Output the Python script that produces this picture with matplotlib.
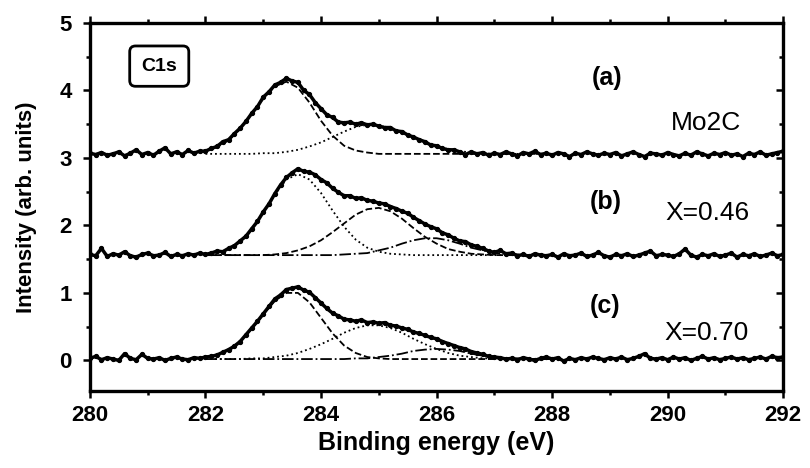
import numpy as np
import matplotlib
matplotlib.use('Agg')
import matplotlib.pyplot as plt
from matplotlib.ticker import MultipleLocator

plt.rcParams['font.family'] = ['Liberation Sans', 'DejaVu Sans']

# measured spectra, 0.1 eV steps from 280 to 292 eV
energy = np.round(np.arange(280.0, 292.001, 0.1), 1)

spec_a = [3.07, 3.05, 3.08, 3.04, 3.06, 3.09, 3.03, 3.07, 3.12, 3.05,
          3.08, 3.04, 3.10, 3.15, 3.06, 3.09, 3.05, 3.11, 3.07, 3.10,
          3.10, 3.14, 3.17, 3.24, 3.27, 3.36, 3.44, 3.54, 3.66, 3.76,
          3.90, 3.98, 4.08, 4.12, 4.18, 4.14, 4.12, 4.00, 3.94, 3.82,
          3.73, 3.64, 3.60, 3.53, 3.52, 3.53, 3.50, 3.52, 3.49, 3.50,
          3.47, 3.45, 3.45, 3.40, 3.39, 3.34, 3.31, 3.27, 3.24, 3.19,
          3.18, 3.14, 3.12, 3.12, 3.09, 3.05, 3.09, 3.06, 3.08, 3.04,
          3.07, 3.05, 3.09, 3.06, 3.03, 3.08, 3.06, 3.10, 3.05, 3.07,
          3.04, 3.08, 3.06, 3.02, 3.07, 3.05, 3.09, 3.06, 3.04, 3.07,
          3.05, 3.08, 3.03, 3.06, 3.09, 3.05, 3.02, 3.07, 3.06, 3.04,
          3.08, 3.05, 3.03, 3.07, 3.04, 3.09, 3.06, 3.03, 3.07, 3.05,
          3.08, 3.04, 3.06, 3.02, 3.07, 3.05, 3.09, 3.04, 3.06, 3.08,
          3.10]

spec_b = [1.57, 1.55, 1.66, 1.54, 1.58, 1.56, 1.61, 1.55, 1.53, 1.57,
          1.59, 1.55, 1.56, 1.60, 1.54, 1.57, 1.55, 1.58, 1.56, 1.59,
          1.57, 1.59, 1.62, 1.61, 1.66, 1.70, 1.77, 1.84, 1.95, 2.06,
          2.20, 2.32, 2.47, 2.60, 2.71, 2.78, 2.84, 2.80, 2.79, 2.75,
          2.68, 2.63, 2.55, 2.49, 2.44, 2.44, 2.40, 2.41, 2.37, 2.36,
          2.33, 2.32, 2.28, 2.25, 2.21, 2.18, 2.12, 2.07, 2.02, 1.98,
          1.95, 1.89, 1.86, 1.81, 1.77, 1.76, 1.71, 1.69, 1.66, 1.62,
          1.60, 1.63, 1.58, 1.59, 1.55, 1.57, 1.54, 1.58, 1.56, 1.55,
          1.57, 1.53, 1.58, 1.55, 1.56, 1.59, 1.54, 1.56, 1.60, 1.55,
          1.53, 1.57, 1.55, 1.58, 1.54, 1.56, 1.59, 1.62, 1.55, 1.57,
          1.56, 1.54, 1.58, 1.65, 1.56, 1.53, 1.57, 1.55, 1.58, 1.54,
          1.56, 1.59, 1.53, 1.57, 1.55, 1.58, 1.54, 1.56, 1.59, 1.55,
          1.57]

spec_c = [0.03, 0.06, 0.01, 0.04, 0.02, 0.00, 0.10, 0.03, 0.01, 0.09,
          0.03, 0.02, 0.04, 0.00, 0.03, 0.05, 0.02, 0.01, 0.04, 0.03,
          0.05, 0.06, 0.08, 0.12, 0.16, 0.21, 0.28, 0.38, 0.48, 0.58,
          0.69, 0.80, 0.91, 0.97, 1.05, 1.07, 1.09, 1.04, 1.01, 0.93,
          0.85, 0.77, 0.70, 0.66, 0.61, 0.60, 0.58, 0.60, 0.56, 0.57,
          0.55, 0.56, 0.52, 0.51, 0.48, 0.46, 0.42, 0.40, 0.37, 0.34,
          0.32, 0.28, 0.25, 0.22, 0.19, 0.17, 0.13, 0.11, 0.09, 0.06,
          0.05, 0.04, 0.02, 0.03, 0.01, 0.04, 0.02, 0.00, 0.03, 0.05,
          0.02, 0.04, -0.01, 0.03, 0.01, 0.04, 0.02, 0.05, 0.03, 0.01,
          0.04, 0.02, 0.05, 0.01, 0.03, 0.06, 0.10, 0.03, 0.02, 0.04,
          0.01, 0.05, 0.02, 0.04, 0.00, 0.03, 0.06, 0.02, 0.04, 0.01,
          0.03, 0.05, 0.02, 0.04, 0.01, 0.03, 0.05, 0.02, 0.06, 0.04,
          0.05]

# fitted components (height above each baseline), 0.2 eV steps 282-288 eV
fit_energy = np.round(np.arange(282.0, 288.001, 0.2), 1)
base_a, base_b, base_c = 3.06, 1.56, 0.02

a_peak1 = [0.04, 0.10, 0.20, 0.37, 0.59, 0.82, 1.00, 1.07, 0.98, 0.76,
           0.49, 0.27, 0.12, 0.05, 0.02, 0.00, 0, 0, 0, 0,
           0, 0, 0, 0, 0, 0, 0, 0, 0, 0, 0]
a_peak2 = [0, 0, 0, 0, 0, 0.01, 0.01, 0.03, 0.06, 0.11,
           0.17, 0.25, 0.33, 0.40, 0.43, 0.42, 0.38, 0.32, 0.24, 0.17,
           0.11, 0.07, 0.04, 0.02, 0.01, 0, 0, 0, 0, 0, 0]

b_peak1 = [0.01, 0.04, 0.09, 0.20, 0.38, 0.63, 0.90, 1.12, 1.20, 1.12,
           0.92, 0.66, 0.42, 0.23, 0.11, 0.05, 0.02, 0.01, 0, 0,
           0, 0, 0, 0, 0, 0, 0, 0, 0, 0, 0]
b_peak2 = [0, 0, 0, 0, 0, 0.00, 0.01, 0.03, 0.07, 0.13,
           0.22, 0.34, 0.47, 0.60, 0.68, 0.70, 0.65, 0.54, 0.40, 0.27,
           0.17, 0.09, 0.05, 0.02, 0.01, 0, 0, 0, 0, 0, 0]
b_peak3 = [0, 0, 0, 0, 0, 0, 0, 0, 0, 0,
           0, 0, 0.01, 0.02, 0.03, 0.07, 0.11, 0.17, 0.22, 0.25,
           0.25, 0.22, 0.17, 0.11, 0.07, 0.03, 0.02, 0.01, 0, 0, 0]

c_peak1 = [0.02, 0.06, 0.14, 0.26, 0.45, 0.66, 0.86, 0.98, 0.98, 0.84,
           0.61, 0.38, 0.20, 0.09, 0.03, 0.01, 0, 0, 0, 0,
           0, 0, 0, 0, 0, 0, 0, 0, 0, 0, 0]
c_peak2 = [0, 0, 0, 0, 0.01, 0.01, 0.03, 0.05, 0.09, 0.15,
           0.22, 0.30, 0.39, 0.46, 0.50, 0.50, 0.46, 0.39, 0.30, 0.22,
           0.15, 0.09, 0.05, 0.03, 0.01, 0.01, 0, 0, 0, 0, 0]
c_peak3 = [0, 0, 0, 0, 0, 0, 0, 0, 0, 0,
           0, 0, 0, 0.01, 0.01, 0.03, 0.05, 0.08, 0.12, 0.14,
           0.15, 0.14, 0.12, 0.08, 0.05, 0.03, 0.01, 0.01, 0, 0, 0]

fig = plt.figure(figsize=(8.1, 4.68), dpi=100)
ax = fig.add_axes([0.111, 0.165, 0.856, 0.786])

comp_kw = dict(color='black', linewidth=1.3, zorder=2)
ax.plot(fit_energy, np.array(a_peak1) + base_a, linestyle='--', **comp_kw)
ax.plot(fit_energy, np.array(a_peak2) + base_a, linestyle=':', **comp_kw)
ax.plot(fit_energy, np.array(b_peak1) + base_b, linestyle=':', **comp_kw)
ax.plot(fit_energy, np.array(b_peak2) + base_b, linestyle='--', **comp_kw)
ax.plot(fit_energy, np.array(b_peak3) + base_b, linestyle='-.', **comp_kw)
ax.plot(fit_energy, np.array(c_peak1) + base_c, linestyle='--', **comp_kw)
ax.plot(fit_energy, np.array(c_peak2) + base_c, linestyle=':', **comp_kw)
ax.plot(fit_energy, np.array(c_peak3) + base_c, linestyle='-.', **comp_kw)

for spec in (spec_a, spec_b, spec_c):
    ax.plot(energy, spec, color='black', linewidth=2.5, marker='o',
            markersize=2.8, zorder=3)

ax.set_xlim(280, 292)
ax.set_ylim(-0.45, 5)
ax.xaxis.set_major_locator(MultipleLocator(2))
ax.xaxis.set_minor_locator(MultipleLocator(1))
ax.yaxis.set_major_locator(MultipleLocator(1))
ax.yaxis.set_minor_locator(MultipleLocator(0.5))
ax.tick_params(which='both', direction='out', width=1.8, top=True)
ax.tick_params(axis='y', which='both', right=True)
ax.tick_params(which='major', length=5)
ax.tick_params(which='minor', length=3)
ax.tick_params(axis='y', pad=8)
ax.tick_params(axis='x', pad=5)
# right-hand ticks point into the frame
for t in ax.yaxis.get_ticklines(minor=False)[1::2] + ax.yaxis.get_ticklines(minor=True)[1::2]:
    t.set_marker(0)
for s in ax.spines.values():
    s.set_linewidth(2.4)

for lab in ax.get_xticklabels() + ax.get_yticklabels():
    lab.set_fontweight('bold')
    lab.set_fontsize(16)

ax.set_xlabel('Binding energy (eV)', fontsize=18, fontweight='bold', labelpad=4)
ax.set_ylabel('Intensity (arb. units)', fontsize=16, fontweight='bold', labelpad=16)

ax.text(281.2, 4.36, 'C1s', fontsize=14, fontweight='bold', ha='center', va='center',
        bbox=dict(boxstyle='round,pad=0.6,rounding_size=0.3', fc='white', ec='black', lw=2))

ax.text(288.95, 4.19, '(a)', fontsize=18, fontweight='bold', ha='center', va='center')
ax.text(288.92, 2.35, '(b)', fontsize=18, fontweight='bold', ha='center', va='center')
ax.text(288.92, 0.81, '(c)', fontsize=18, fontweight='bold', ha='center', va='center')
ax.text(290.67, 3.52, 'Mo2C', fontsize=19, ha='center', va='center')
ax.text(290.69, 2.18, 'X=0.46', fontsize=19, ha='center', va='center')
ax.text(290.67, 0.41, 'X=0.70', fontsize=19, ha='center', va='center')

fig.savefig('out.png', dpi=100)
